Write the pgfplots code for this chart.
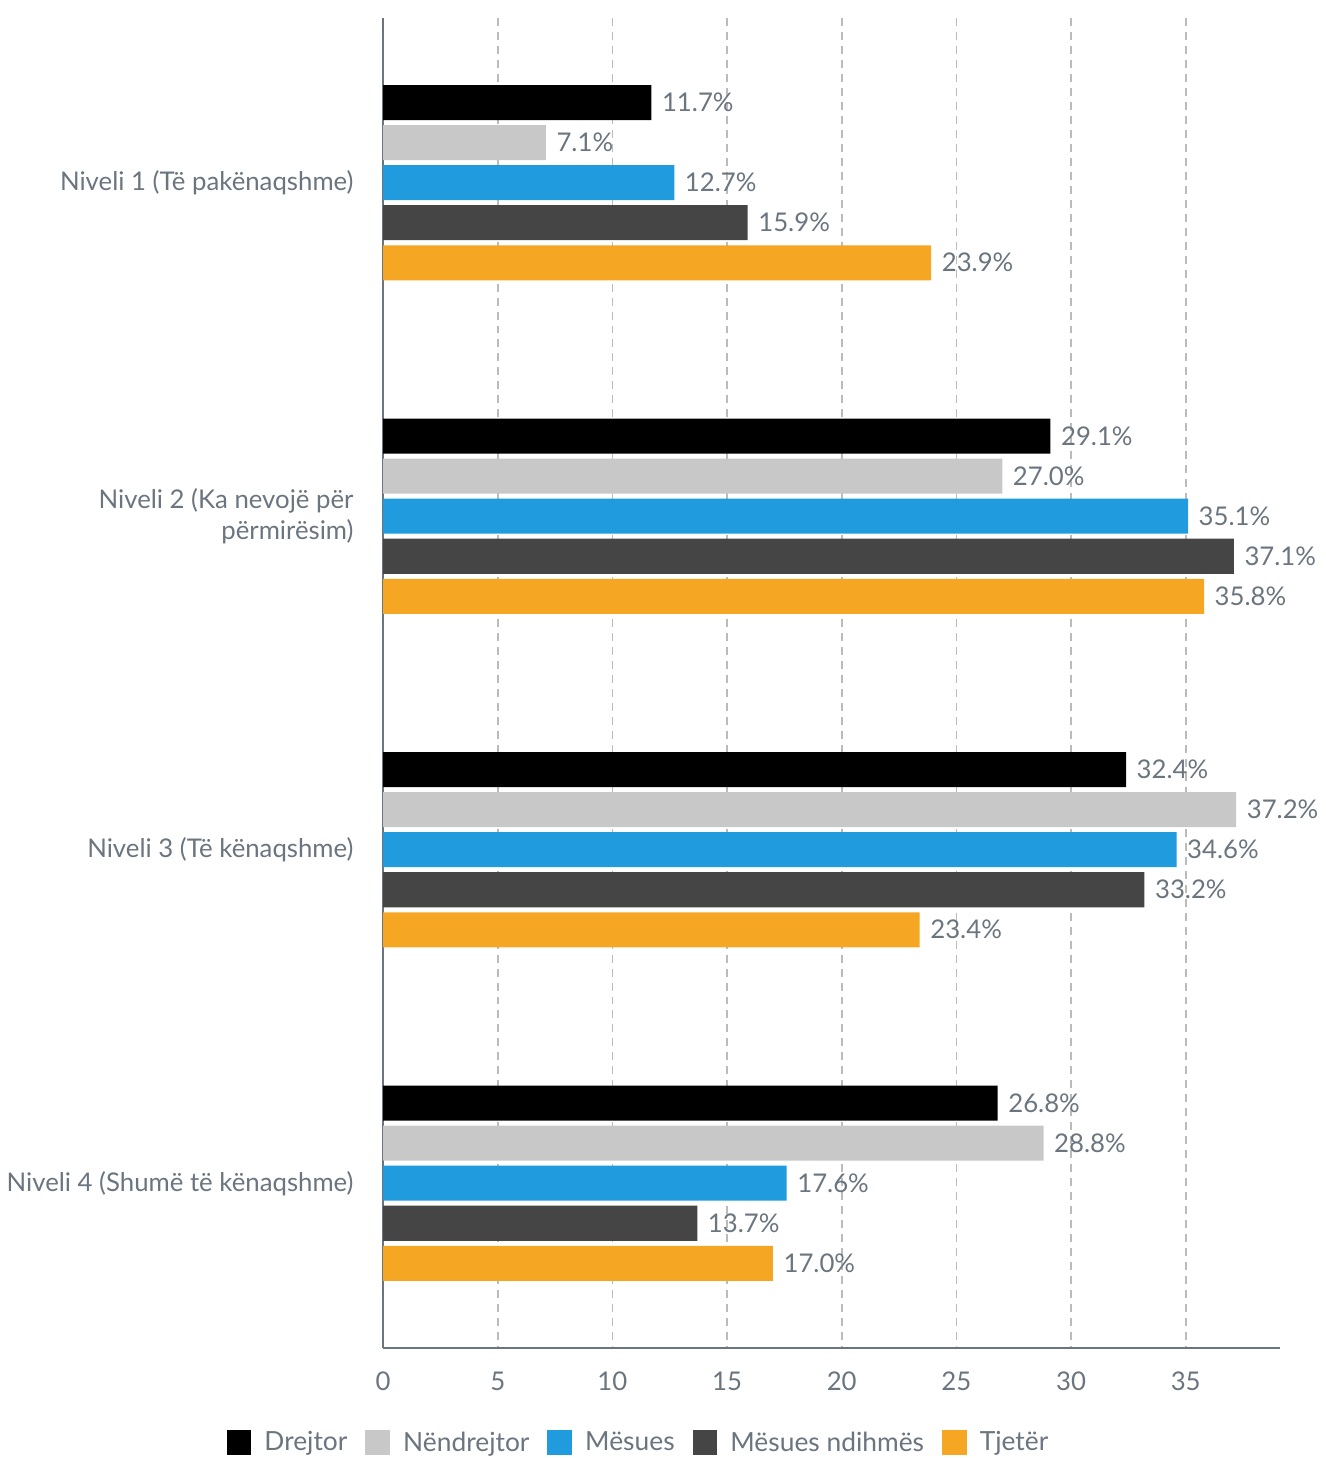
\documentclass[border=0pt]{standalone}
\usepackage{pgfplots}
\pgfplotsset{compat=1.18}
\usepackage{fontspec}
\setmainfont{Lato}
\definecolor{txt}{HTML}{6B7580}
\definecolor{axc}{HTML}{6B7580}
\definecolor{gridc}{HTML}{BBBBBB}
\definecolor{cA}{HTML}{000000}
\definecolor{cB}{HTML}{C8C8C8}
\definecolor{cC}{HTML}{1F9BDE}
\definecolor{cD}{HTML}{454545}
\definecolor{cE}{HTML}{F5A623}
\begin{document}
\begin{tikzpicture}
\begin{axis}[
  scale only axis, width=449pt, height=666pt,
  xbar, bar width=0.105,
  xmin=0, xmax=39.1, ymin=-0.494, ymax=3.494, y dir=reverse,
  ytick={0,1,2,3},
  yticklabels={Niveli 1 (Të pakënaqshme),{Niveli 2 (Ka nevojë për\\përmirësim)},Niveli 3 (Të kënaqshme),Niveli 4 (Shumë të kënaqshme)},
  xtick={0,5,...,35},
  axis x line*=bottom, axis y line*=left,
  axis line style={color=axc, line width=1pt, -},
  tick style={draw=none},
  xmajorgrids, grid style={color=gridc, line width=0.8pt, dash pattern=on 4pt off 3pt},
  /pgf/number format/assume math mode=true,
  tick label style={font=\fontsize{12.9}{16}\selectfont, color=txt},
  yticklabel style={align=right, xshift=-7pt},
  xticklabel style={yshift=-8.5pt},
  nodes near coords={\pgfmathprintnumber[fixed,fixed zerofill,precision=1]{\pgfplotspointmeta}\%},
  nodes near coords style={font=\fontsize{12.9}{16}\selectfont, color=txt, anchor=west, xshift=1.8pt},
  legend columns=5,
  legend style={draw=none, inner sep=0pt, at={(0.286,-0.0713)}, anchor=center, font=\fontsize{13.2}{16}\selectfont, text=txt,
    /tikz/every even column/.append style={column sep=7pt},
    /tikz/every odd column/.append style={column sep=4.5pt}},
  legend image code/.code={\fill[#1] (0pt,-6.2pt) rectangle (12.4pt,6.2pt);},
]
\addplot[fill=cA, draw=none, bar shift=-0.24] coordinates {(11.7,0) (29.1,1) (32.4,2) (26.8,3)};
\addplot[fill=cB, draw=none, bar shift=-0.12] coordinates {(7.1,0) (27.0,1) (37.2,2) (28.8,3)};
\addplot[fill=cC, draw=none, bar shift=0] coordinates {(12.7,0) (35.1,1) (34.6,2) (17.6,3)};
\addplot[fill=cD, draw=none, bar shift=0.12] coordinates {(15.9,0) (37.1,1) (33.2,2) (13.7,3)};
\addplot[fill=cE, draw=none, bar shift=0.24] coordinates {(23.9,0) (35.8,1) (23.4,2) (17.0,3)};
\legend{Drejtor,Nëndrejtor,Mësues,Mësues ndihmës,Tjetër}
\end{axis}
\path (current axis.north) ++(0,9pt);
\end{tikzpicture}
\end{document}
